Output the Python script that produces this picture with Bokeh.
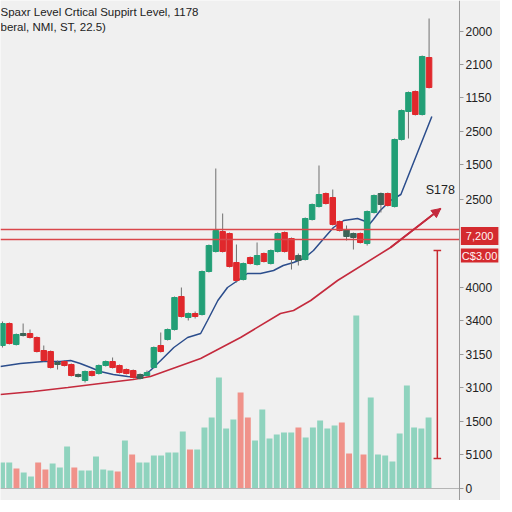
from bokeh.plotting import figure
from bokeh.models import (Range1d, FixedTicker, Span, Label, Arrow, NormalHead,
                          ColumnDataSource)
from bokeh.embed import file_html
from bokeh.resources import INLINE

# ---------------- data ----------------
days = list(range(63))
c_open = [143,165,144,153,155,151,138,137,124,127,124,112,108,117,115,123,127,123,119,118,
          110,113,121,143,149,159,192,171,175,174,217,237,257,255,226,209,231,224,235,225,
          237,256,250,228,229,269,282,295,291,267,252,251,255,245,276,284,295,282,349,377,
          397,374,431]
c_close = [165,145,154,155,151,137,128,121,126,123,113,114,117,113,123,127,121,116,115,111,
           114,116,141,137,159,191,172,175,172,217,243,258,237,222,208,225,225,233,227,238,
           255,237,229,233,270,284,294,285,264,258,259,255,246,277,293,295,283,349,378,396,
           374,432,401]
c_high = [167,166,155,165,159,152,143,138,128,128,125,115,118,118,124,128,131,124,120,119,
          115,118,142,156,160,192,201,176,177,218,244,320,275,256,244,226,232,246,236,239,
          256,257,251,235,271,285,323,296,299,268,263,256,256,278,294,296,296,350,379,397,
          398,433,470]
c_low = [141,144,143,152,150,136,127,120,119,122,112,111,106,112,114,122,120,115,114,110,
         109,112,120,136,148,158,171,168,170,173,216,236,236,221,206,208,224,223,226,224,
         236,236,219,223,228,268,281,284,263,257,248,239,245,243,275,276,282,281,348,350,
         373,373,400]
c_kind = ["up","down","up","doji","down","down","down","down","doji","down",
          "down","doji","up","down","up","up","down","down","down","down",
          "doji","up","up","down","up","up","down","up","down","up",
          "up","up","down","down","down","up","down","up","down","up",
          "up","down","down","doji","up","up","up","down","down","down",
          "doji","doji","down","up","up","doji","down","up","up","up",
          "down","up","down"]

vol_slots = list(range(60))
volume = [26,26,20,16,12,26,19,25,21,42, 21,18,18,32,19,18,17,48,34,26,
          26,33,33,36,36,57,39,39,61,71, 111,60,69,96,71,48,79,50,54,56,
          56,61,51,61,68,60,63,66,35,173, 34,91,34,33,27,55,103,61,60,71]
vol_kind = ["up","up","down","up","up","down","down","up","up","up",
            "down","up","up","up","up","up","down","up","down","up",
            "up","up","up","up","up","up","down","up","up","up",
            "up","up","up","down","down","up","up","up","up","up",
            "up","down","up","up","up","up","up","down","down","up",
            "down","up","up","up","up","up","up","up","up","up"]

ma_fast_x = [-0.3,2.6,6.0,8.4,9.9,11.3,12.8,14.2,16.1,18.2,20.1,21.5,23.0,24.9,26.9,28.8,
             29.8,31.3,32.7,34.2,35.6,37.5,39.4,40.8,42.3,43.8,45.2,46.7,48.1,49.6,51.6,
             52.8,53.3,53.9,54.9,56.4,57.9,62.4]
ma_fast_y = [122,125,127,127,128,125,121,117,114,112,111,118,128,141,151,155,
             168,188,201,208,215,215,218,223,226,230,238,250,261,268,270,
             267,264,269,278,288,294,372]
ma_slow_x = [-0.3,4.5,9.5,14.2,19.0,21.5,28.8,34.6,40.4,42.3,44.8,48.7,56.4,63.7]
ma_slow_y = [94,97,101,105,109,112,130,151,175,178,188,208,241,280]

support_levels = [259, 249]
price_tags = ["7,200", "C$3.00"]
price_tag_levels = [252.5, 233]
range_marker = dict(x=63.2, low=30, high=238)

tick_pos = [0, 34, 67, 101, 134, 168, 201, 289, 324, 357, 391, 424, 457]
tick_lab = ["0", "5100", "1500", "3100", "3150", "3400", "4000",
            "2500", "1500", "2500", "1150", "2100", "2000"]

# ---------------- layout / styles ----------------
BG = "#f0f0f0"
col_map = {"up": "#229f76", "down": "#e0282c", "doji": "#3c6457"}
vcol_map = {"up": "#8fd3be", "down": "#f0928a"}
FONT = "Liberation Sans"
FRAME_W, FRAME_H = 500, 500
X0, X1 = -0.29, 72.38          # candle slots across the whole canvas
AXIS_X = 66.42                 # slot where the price scale sits
AXIS_PX = 459                  # its pixel column in the frame

p = figure(frame_width=FRAME_W, frame_height=FRAME_H, output_backend="svg",
           toolbar_location=None, x_axis_location=None, y_axis_location="right",
           x_range=Range1d(X0, X1), y_range=Range1d(-12, 488),
           background_fill_color=BG, border_fill_color=BG,
           min_border=0)
p.extra_x_ranges = {"vol": Range1d(-0.21, 68.95)}
p.outline_line_color = None
p.grid.visible = False

# volume
vsrc = ColumnDataSource(dict(x=vol_slots, top=volume,
                             color=[vcol_map[k] for k in vol_kind]))
p.vbar(x="x", top="top", bottom=0, width=0.82, source=vsrc, x_range_name="vol",
       fill_color="color", line_color=None)

# base line and price-scale line
p.segment(x0=[X0], y0=[0], x1=[AXIS_X], y1=[0], line_color="#b5b5b5", line_width=1)
p.add_layout(Span(location=AXIS_X, dimension="height", line_color="#9a9a9a", line_width=1))

# moving averages
p.line(ma_slow_x, ma_slow_y, line_color="#c42a3d", line_width=1.6)
p.add_layout(Arrow(end=NormalHead(size=9, fill_color="#c42a3d", line_color="#c42a3d"),
                   x_start=ma_slow_x[-2], y_start=ma_slow_y[-2],
                   x_end=ma_slow_x[-1], y_end=ma_slow_y[-1],
                   line_color="#c42a3d", line_width=1.6))
p.line(ma_fast_x, ma_fast_y, line_color="#2b4d8c", line_width=1.5)

# candles
csrc = ColumnDataSource(dict(
    x=days, hi=c_high, lo=c_low,
    top=[max(o, c) for o, c in zip(c_open, c_close)],
    bot=[min(o, c) for o, c in zip(c_open, c_close)],
    color=[col_map[k] for k in c_kind]))
p.segment(x0="x", y0="lo", x1="x", y1="hi", source=csrc, line_color="#707070", line_width=1)
p.vbar(x="x", top="top", bottom="bot", width=0.8, source=csrc,
       fill_color="color", line_color="color")

# support lines up to the price scale
p.segment(x0=[X0] * len(support_levels), y0=support_levels,
          x1=[AXIS_X] * len(support_levels), y1=support_levels,
          line_color="#d9474b", line_width=1.4)

# range marker
rx = range_marker["x"]
p.segment(x0=[rx, rx - 0.55, rx - 0.55], y0=[range_marker["low"], range_marker["low"], range_marker["high"]],
          x1=[rx, rx + 0.55, rx + 0.55], y1=[range_marker["high"], range_marker["low"], range_marker["high"]],
          line_color="#c8282e", line_width=1.5)

# texts
p.add_layout(Label(x=61.5, y=299, text="S178", text_font=FONT, text_font_size="12.5px",
                   text_color="#222222", text_baseline="middle"))
p.add_layout(Label(x=X0, y=477, text="Spaxr Level Crtical Suppirt Level, 1178",
                   text_font=FONT, text_font_size="11.5px", text_color="#222222",
                   text_baseline="middle"))
p.add_layout(Label(x=X0, y=462, text="beral, NMI, ST, 22.5)",
                   text_font=FONT, text_font_size="11.5px", text_color="#222222",
                   text_baseline="middle"))

# red price tags right of the scale line
for txt, lv, pad in zip(price_tags, price_tag_levels, [5, 1]):
    p.add_layout(Label(x=AXIS_X + 0.2, y=lv, text=txt, text_font=FONT,
                       text_font_size="11px", text_color="#fff4f4",
                       text_baseline="middle", background_fill_color="#d42a2e",
                       padding=pad))

# price axis: sits at the frame edge, ticks/labels pulled back to the scale column
ax = p.yaxis[0]
ax.ticker = FixedTicker(ticks=tick_pos)
ax.major_label_overrides = {t: l for t, l in zip(tick_pos, tick_lab)}
ax.axis_line_color = None
ax.major_tick_line_color = "#9a9a9a"
ax.major_tick_in = FRAME_W - AXIS_PX
ax.major_tick_out = -(FRAME_W - AXIS_PX - 4)
ax.minor_tick_line_color = None
ax.major_label_standoff = -(FRAME_W - AXIS_PX - 6)
ax.major_label_text_font = FONT
ax.major_label_text_font_size = "12px"
ax.major_label_text_color = "#222222"

open("out.html", "w").write(file_html(p, INLINE))
